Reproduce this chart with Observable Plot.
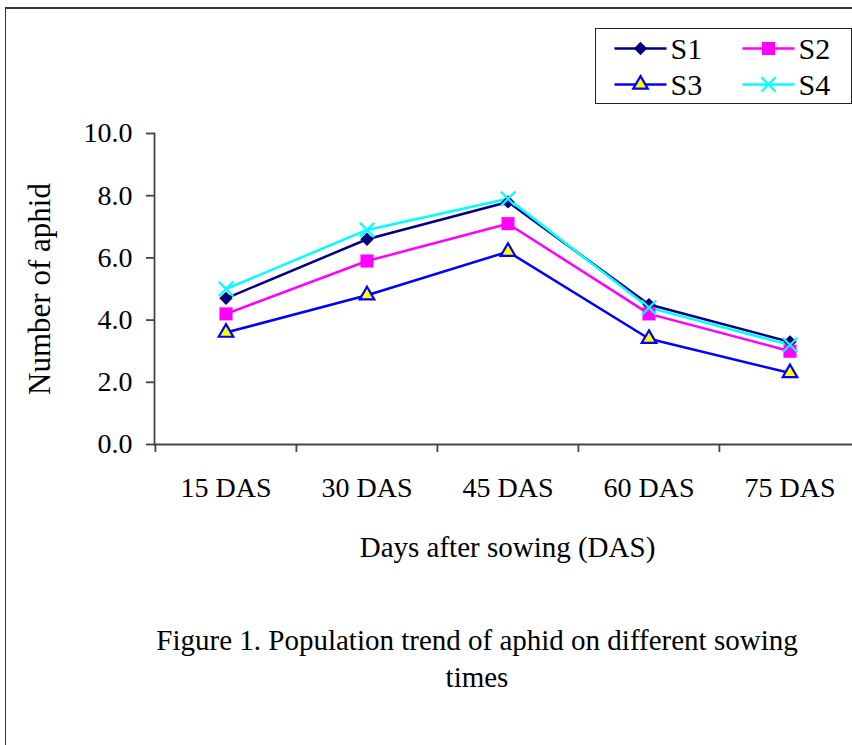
<!DOCTYPE html>
<html>
<head>
<meta charset="utf-8">
<script src="https://cdn.jsdelivr.net/npm/d3@7"></script>
<script src="https://cdn.jsdelivr.net/npm/@observablehq/plot@0.6"></script>
<style>
  body { margin: 0; background: #fff; }
  #page { position: relative; width: 852px; height: 745px; overflow: hidden; background: #fff;
          font-family: "Liberation Serif", "Times New Roman", serif; color: #000; }
  #border { position: absolute; left: 5px; top: 7px; right: -10px; bottom: -10px;
            border-top: 2px solid #333; border-left: 1.5px solid #333; }
  #chart { position: absolute; left: 0; top: 0; width: 860px; line-height: 0; }
  #chart svg { max-width: none !important; }
  #legend { position: absolute; left: 595px; top: 28px; width: 255px; height: 74px;
            border: 1.5px solid #222; background: #fff; }
  #caption { position: absolute; left: 82px; width: 790px; top: 622px; text-align: center;
             font-size: 29px; line-height: 37px; }
</style>
</head>
<body>
<div id="page">
  <div id="border"></div>
  <div id="chart"></div>
  <div id="legend"></div>
  <div id="caption">Figure 1. Population trend of aphid on different sowing<br>times</div>
</div>
<script>
// Aphid counts per sowing time, sampled every 15 days after sowing
const categories = ["15 DAS", "30 DAS", "45 DAS", "60 DAS", "75 DAS"];
const seriesNames = ["S1", "S2", "S3", "S4"];
const s1 = [4.7, 6.6, 7.8, 4.5, 3.3];
const s2 = [4.2, 5.9, 7.1, 4.2, 3.0];
const s3 = [3.6, 4.8, 6.2, 3.4, 2.3];
const s4 = [5.0, 6.9, 7.9, 4.4, 3.2];
const yTicks = [0, 2, 4, 6, 8, 10];

const seriesValues = [s1, s2, s3, s4];

// Line colour and marker style for each series
const styles = {
  S1: {line: "#000080", symbol: "diamond2", r: 6.0, fill: "#000080", stroke: "none", sw: 0},
  S2: {line: "#FF00FF", symbol: "square", r: 7.4, fill: "#FF00FF", stroke: "none", sw: 0},
  S3: {line: "#0000FF", symbol: "triangle", r: 5.4, fill: "#FFFF00", stroke: "#0000FF", sw: 2.2},
  S4: {line: "#00FFFF", symbol: "times", r: 6.6, fill: "none", stroke: "#00FFFF", sw: 2.2}
};

const rows = seriesNames.flatMap((s, i) =>
  seriesValues[i].map((v, j) => ({series: s, cat: categories[j], value: v})));

const W = 860, H = 600, ML = 154, MT = 133, MB = 156;
const step = (W - ML) / categories.length;
const axisColor = "#444";
const serif = "Liberation Serif, Times New Roman, serif";

const seriesMarks = seriesNames.map(s =>
  Plot.line(rows.filter(d => d.series === s), {
    x: "cat", y: "value", stroke: styles[s].line, strokeWidth: 2.5
  }));
const markerMarks = seriesNames.map(s =>
  Plot.dot(rows.filter(d => d.series === s), {
    x: "cat", y: "value", symbol: styles[s].symbol, r: styles[s].r,
    fill: styles[s].fill, stroke: styles[s].stroke, strokeWidth: styles[s].sw
  }));

const chart = Plot.plot({
  width: W, height: H,
  marginLeft: ML, marginRight: 0, marginTop: MT, marginBottom: MB,
  style: {fontFamily: serif, fontSize: "28px", color: "#000", background: "transparent",
          overflow: "visible", maxWidth: "none"},
  x: {type: "band", domain: categories, padding: 0},
  y: {domain: [0, 10]},
  marks: [
    Plot.ruleY([0], {stroke: axisColor, strokeWidth: 1.8}),
    Plot.frame({anchor: "left", stroke: axisColor, strokeWidth: 1.8}),
    Plot.axisY(yTicks, {tickSize: 8, tickPadding: 14, tickFormat: d3.format(".1f"),
      fontSize: 28, stroke: axisColor, strokeWidth: 1.8, label: null}),
    // tick marks sit on the category boundaries
    Plot.axisX({tickSize: 8, tickFormat: () => "", dx: -step / 2,
      stroke: axisColor, strokeWidth: 1.8, label: null}),
    Plot.axisX({tickSize: 0, tickPadding: 33, fontSize: 28, label: null}),
    Plot.text(["Days after sowing (DAS)"], {text: d => d, frameAnchor: "bottom", dy: 112, fontSize: 29}),
    Plot.text(["Number of aphid"], {text: d => d, frameAnchor: "left", textAnchor: "middle",
      rotate: -90, dx: -114, fontSize: 31}),
    ...seriesMarks,
    ...markerMarks
  ]
});
document.getElementById("chart").appendChild(chart);

// Legend: two columns, two rows
const legend = d3.select("#legend").append("svg")
  .attr("width", 255).attr("height", 74)
  .style("display", "block");
const cols = [18.5, 146.5], rowsY = [19.5, 55.5];
seriesNames.forEach((s, i) => {
  const st = styles[s];
  const x0 = cols[i % 2], y0 = rowsY[Math.floor(i / 2)];
  const g = legend.append("g");
  g.append("line").attr("x1", x0).attr("x2", x0 + 52).attr("y1", y0).attr("y2", y0)
    .attr("stroke", st.line).attr("stroke-width", 2.5);
  const symType = {diamond2: d3.symbolDiamond2, square: d3.symbolSquare,
                   triangle: d3.symbolTriangle, times: d3.symbolTimes}[st.symbol];
  g.append("path")
    .attr("d", d3.symbol(symType, Math.PI * st.r * st.r)())
    .attr("transform", `translate(${x0 + 26},${y0})`)
    .attr("fill", st.fill).attr("stroke", st.stroke).attr("stroke-width", st.sw);
  g.append("text").attr("x", x0 + 56).attr("y", y0 + 10)
    .attr("font-size", 30).attr("font-family", serif)
    .attr("fill", "#000").text(s);
});
</script>
</body>
</html>
